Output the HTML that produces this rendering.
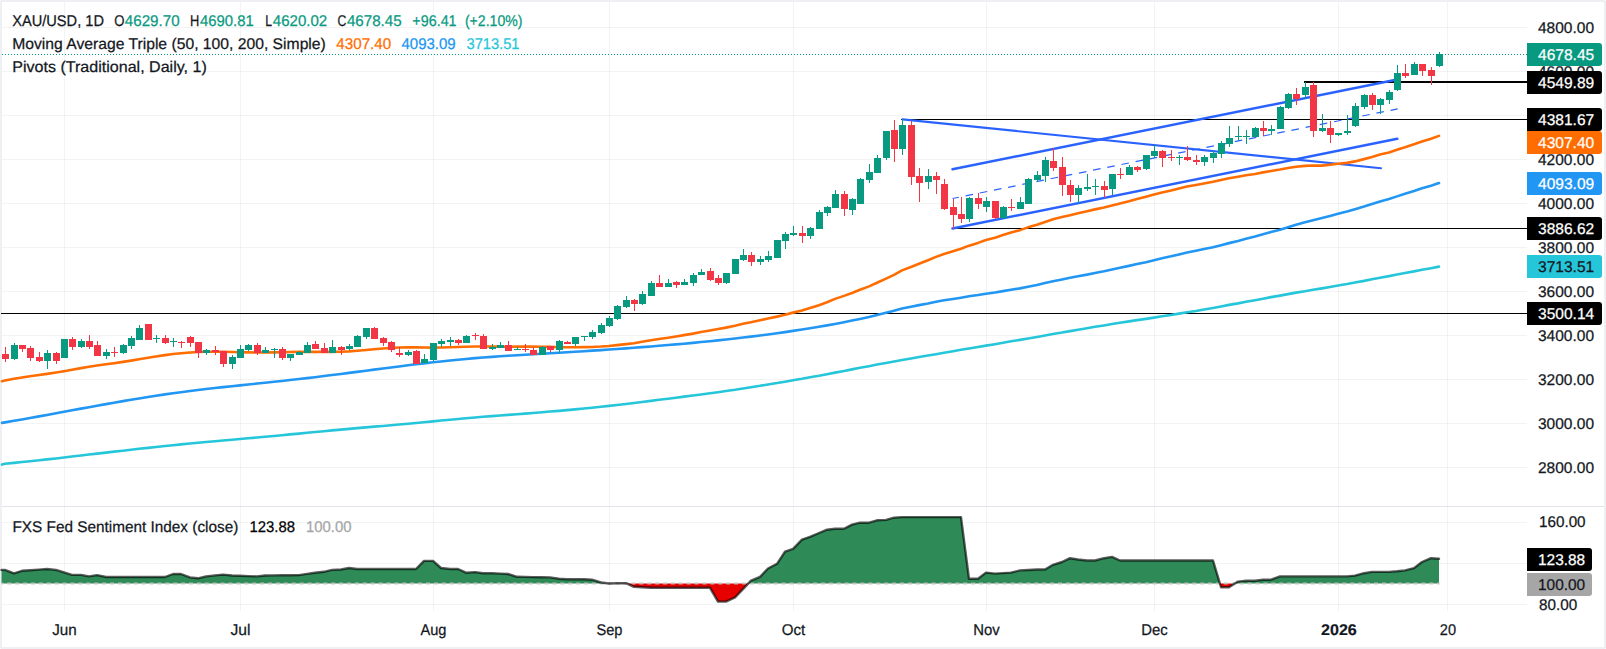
<!DOCTYPE html>
<html lang="en"><head><meta charset="utf-8"><title>XAU/USD 1D chart</title>
<style>html,body{margin:0;padding:0;background:#fff;}body{width:1606px;height:649px;overflow:hidden;}svg{display:block}</style>
</head><body>
<svg width="1606" height="649" viewBox="0 0 1606 649" font-family="'Liberation Sans', Arial, sans-serif" font-size="15.5" fill="#131722" text-rendering="geometricPrecision">
<rect x="0" y="0" width="1606" height="649" fill="#ffffff"/>
<path d="M0 0H1606V649H0ZM2 2V647H1604V2Z" fill="#eff0f4" fill-rule="evenodd" shape-rendering="crispEdges"/>
<path d="M0 0h1v1h-1zM1605 0h1v1h-1zM0 648h1v1h-1zM1605 648h1v1h-1z" fill="#f9fafc" shape-rendering="crispEdges"/>
<path d="M1 1h1v1h-1zM1604 1h1v1h-1zM1 647h1v1h-1zM1604 647h1v1h-1z" fill="#e8eaee" shape-rendering="crispEdges"/>
<path d="M64.5 2V506M64.5 507V611 M240.5 2V506M240.5 507V611 M433.5 2V506M433.5 507V611 M609.5 2V506M609.5 507V611 M793.5 2V506M793.5 507V611 M986.5 2V506M986.5 507V611 M1154.5 2V506M1154.5 507V611 M1338.5 2V506M1338.5 507V611 M1447.5 2V506M1447.5 507V611" stroke="rgba(42,46,57,0.06)" stroke-width="1" fill="none" shape-rendering="crispEdges"/>
<path d="M2 467.5H1527 M2 423.5H1527 M2 379.5H1527 M2 335.5H1527 M2 291.5H1527 M2 247.5H1527 M2 203.5H1527 M2 159.5H1527 M2 115.5H1527 M2 71.5H1527 M2 27.5H1527 M2 522.5H1527 M2 563.5H1527 M2 604.5H1527" stroke="rgba(42,46,57,0.06)" stroke-width="1" fill="none" shape-rendering="crispEdges"/>
<rect x="2" y="506" width="1602" height="1" fill="#e0e3eb"/>
<g shape-rendering="crispEdges" fill="#000">
<rect x="1" y="313" width="1526" height="1"/>
<rect x="953" y="228" width="574" height="1"/>
<rect x="901" y="119" width="626" height="1"/>
<rect x="1304" y="81" width="223" height="2"/>
</g>
<g stroke="#2962ff" fill="none" stroke-linecap="round">
<line x1="902.5" y1="119.4" x2="1381" y2="168.2" stroke-width="2.1"/>
<line x1="952.5" y1="169.3" x2="1397.3" y2="79.5" stroke-width="2.5"/>
<line x1="952.5" y1="228.5" x2="1397.3" y2="138.8" stroke-width="2.5"/>
<line x1="952.5" y1="198.5" x2="1397.7" y2="108.9" stroke-width="1.2" stroke-dasharray="7.6 6.85" stroke-dashoffset="1.09" stroke-linecap="butt"/>
</g>
<path d="M2.0 464.55 L5.0 463.71 L14.0 462.87 L22.0 462.02 L30.0 461.18 L39.0 460.33 L47.0 459.39 L56.0 458.46 L64.0 457.51 L72.0 456.54 L81.0 455.57 L89.0 454.58 L97.0 453.60 L106.0 452.62 L114.0 451.63 L123.0 450.68 L131.0 449.72 L139.0 448.78 L148.0 447.85 L156.0 446.94 L165.0 446.07 L173.0 445.22 L181.0 444.38 L190.0 443.57 L198.0 442.77 L206.0 442.00 L215.0 441.25 L223.0 440.50 L232.0 439.77 L240.0 439.02 L248.0 438.26 L257.0 437.52 L265.0 436.75 L274.0 435.98 L282.0 435.21 L290.0 434.41 L299.0 433.61 L307.0 432.80 L315.0 431.99 L324.0 431.19 L332.0 430.39 L341.0 429.61 L349.0 428.85 L357.0 428.10 L366.0 427.38 L374.0 426.65 L383.0 425.94 L391.0 425.23 L399.0 424.49 L408.0 423.75 L416.0 422.98 L424.0 422.20 L433.0 421.40 L441.0 420.58 L450.0 419.79 L458.0 419.01 L466.0 418.26 L475.0 417.53 L483.0 416.82 L492.0 416.15 L500.0 415.49 L508.0 414.84 L517.0 414.23 L525.0 413.59 L533.0 412.94 L542.0 412.26 L550.0 411.56 L559.0 410.85 L567.0 410.10 L575.0 409.34 L584.0 408.54 L592.0 407.68 L601.0 406.80 L609.0 405.89 L617.0 404.93 L626.0 403.96 L634.0 402.95 L642.0 401.92 L651.0 400.86 L659.0 399.79 L668.0 398.73 L676.0 397.67 L684.0 396.61 L693.0 395.56 L701.0 394.45 L710.0 393.33 L718.0 392.17 L726.0 390.96 L735.0 389.73 L743.0 388.45 L751.0 387.16 L760.0 385.83 L768.0 384.46 L777.0 383.08 L785.0 381.66 L793.0 380.22 L802.0 378.77 L810.0 377.27 L819.0 375.76 L827.0 374.21 L835.0 372.61 L844.0 371.00 L852.0 369.36 L860.0 367.76 L869.0 366.17 L877.0 364.59 L886.0 363.05 L894.0 361.50 L902.0 359.98 L911.0 358.51 L919.0 357.03 L928.0 355.59 L936.0 354.17 L944.0 352.72 L953.0 351.28 L961.0 349.84 L969.0 348.42 L978.0 347.01 L986.0 345.60 L995.0 344.20 L1003.0 342.78 L1011.0 341.34 L1020.0 339.90 L1028.0 338.44 L1037.0 336.99 L1045.0 335.53 L1053.0 334.05 L1062.0 332.59 L1070.0 331.11 L1078.0 329.67 L1087.0 328.25 L1095.0 326.84 L1104.0 325.46 L1112.0 324.07 L1120.0 322.70 L1129.0 321.39 L1137.0 320.10 L1146.0 318.86 L1154.0 317.60 L1162.0 316.29 L1171.0 314.98 L1179.0 313.64 L1187.0 312.30 L1196.0 310.93 L1204.0 309.50 L1213.0 308.02 L1221.0 306.45 L1229.0 304.89 L1238.0 303.35 L1246.0 301.79 L1255.0 300.23 L1263.0 298.68 L1271.0 297.12 L1280.0 295.61 L1288.0 294.10 L1296.0 292.65 L1305.0 291.22 L1313.0 289.78 L1322.0 288.35 L1330.0 286.91 L1338.0 285.44 L1347.0 283.96 L1355.0 282.44 L1364.0 280.90 L1372.0 279.33 L1380.0 277.72 L1389.0 276.13 L1397.0 274.52 L1405.0 272.94 L1414.0 271.35 L1422.0 269.76 L1431.0 268.18 L1439.0 266.60" stroke="#26c6da" stroke-width="2.6" fill="none" stroke-linejoin="round" stroke-linecap="round"/>
<path d="M2.0 422.90 L5.0 422.39 L14.0 420.84 L22.0 419.44 L30.0 418.01 L39.0 416.38 L47.0 414.92 L56.0 413.26 L64.0 411.79 L72.0 410.31 L81.0 408.65 L89.0 407.18 L97.0 405.73 L106.0 404.11 L114.0 402.69 L123.0 401.13 L131.0 399.77 L139.0 398.44 L148.0 396.99 L156.0 395.75 L165.0 394.40 L173.0 393.26 L181.0 392.17 L190.0 391.00 L198.0 390.02 L206.0 389.07 L215.0 388.04 L223.0 387.16 L232.0 386.19 L240.0 385.35 L248.0 384.51 L257.0 383.58 L265.0 382.75 L274.0 381.80 L282.0 380.95 L290.0 380.08 L299.0 379.07 L307.0 378.13 L315.0 377.18 L324.0 376.07 L332.0 375.07 L341.0 373.92 L349.0 372.89 L357.0 371.84 L366.0 370.67 L374.0 369.63 L383.0 368.46 L391.0 367.43 L399.0 366.42 L408.0 365.29 L416.0 364.32 L424.0 363.37 L433.0 362.33 L441.0 361.45 L450.0 360.50 L458.0 359.70 L466.0 358.94 L475.0 358.15 L483.0 357.51 L492.0 356.83 L500.0 356.28 L508.0 355.75 L517.0 355.19 L525.0 354.71 L533.0 354.25 L542.0 353.73 L550.0 353.27 L559.0 352.73 L567.0 352.25 L575.0 351.76 L584.0 351.19 L592.0 350.67 L601.0 350.08 L609.0 349.54 L617.0 348.98 L626.0 348.34 L634.0 347.76 L642.0 347.16 L651.0 346.46 L659.0 345.82 L668.0 345.07 L676.0 344.39 L684.0 343.68 L693.0 342.85 L701.0 342.08 L710.0 341.19 L718.0 340.36 L726.0 339.51 L735.0 338.50 L743.0 337.57 L751.0 336.61 L760.0 335.48 L768.0 334.44 L777.0 333.22 L785.0 332.09 L793.0 330.91 L802.0 329.54 L810.0 328.27 L819.0 326.78 L827.0 325.39 L835.0 323.94 L844.0 322.20 L852.0 320.60 L860.0 318.91 L869.0 316.95 L877.0 315.01 L886.0 312.78 L894.0 310.69 L902.0 308.57 L911.0 306.73 L919.0 305.13 L928.0 303.46 L936.0 301.77 L944.0 300.34 L953.0 298.96 L961.0 297.70 L969.0 296.30 L978.0 295.06 L986.0 293.67 L995.0 292.47 L1003.0 291.11 L1011.0 289.78 L1020.0 288.37 L1028.0 286.73 L1037.0 284.95 L1045.0 283.05 L1053.0 281.21 L1062.0 279.42 L1070.0 277.79 L1078.0 276.18 L1087.0 274.61 L1095.0 272.94 L1104.0 271.34 L1112.0 269.59 L1120.0 267.75 L1129.0 265.88 L1137.0 264.06 L1146.0 262.16 L1154.0 260.18 L1162.0 258.23 L1171.0 256.34 L1179.0 254.41 L1187.0 252.55 L1196.0 250.81 L1204.0 249.10 L1213.0 247.24 L1221.0 245.24 L1229.0 243.13 L1238.0 240.94 L1246.0 238.77 L1255.0 236.42 L1263.0 234.13 L1271.0 231.99 L1280.0 229.65 L1288.0 227.19 L1296.0 224.75 L1305.0 222.26 L1313.0 220.21 L1322.0 218.01 L1330.0 215.89 L1338.0 213.77 L1347.0 211.57 L1355.0 209.14 L1364.0 206.59 L1372.0 204.09 L1380.0 201.61 L1389.0 199.04 L1397.0 196.36 L1405.0 193.68 L1414.0 190.95 L1422.0 188.29 L1431.0 185.73 L1439.0 183.02" stroke="#2196f3" stroke-width="2.6" fill="none" stroke-linejoin="round" stroke-linecap="round"/>
<path d="M2.0 381.20 L5.0 380.54 L14.0 378.79 L22.0 377.46 L30.0 376.26 L39.0 374.99 L47.0 373.87 L56.0 372.51 L64.0 371.16 L72.0 369.72 L81.0 368.10 L89.0 366.76 L97.0 365.57 L106.0 364.31 L114.0 363.21 L123.0 361.88 L131.0 360.60 L139.0 359.26 L148.0 357.76 L156.0 356.46 L165.0 355.12 L173.0 354.08 L181.0 353.23 L190.0 352.51 L198.0 352.06 L206.0 351.79 L215.0 351.68 L223.0 351.75 L232.0 351.99 L240.0 352.24 L248.0 352.42 L257.0 352.52 L265.0 352.51 L274.0 352.41 L282.0 352.23 L290.0 352.03 L299.0 351.86 L307.0 351.83 L315.0 351.86 L324.0 351.91 L332.0 351.89 L341.0 351.72 L349.0 351.38 L357.0 350.81 L366.0 350.00 L374.0 349.24 L383.0 348.48 L391.0 347.93 L399.0 347.55 L408.0 347.37 L416.0 347.39 L424.0 347.53 L433.0 347.59 L441.0 347.51 L450.0 347.29 L458.0 347.05 L466.0 346.82 L475.0 346.48 L483.0 346.56 L492.0 346.56 L500.0 346.64 L508.0 346.75 L517.0 346.65 L525.0 346.61 L533.0 346.65 L542.0 346.69 L550.0 346.92 L559.0 347.18 L567.0 347.26 L575.0 347.24 L584.0 347.10 L592.0 346.93 L601.0 346.57 L609.0 346.07 L617.0 345.14 L626.0 344.14 L634.0 343.18 L642.0 341.79 L651.0 340.31 L659.0 339.07 L668.0 337.83 L676.0 336.46 L684.0 335.10 L693.0 333.62 L701.0 331.91 L710.0 330.42 L718.0 329.04 L726.0 327.60 L735.0 325.81 L743.0 323.85 L751.0 322.15 L760.0 320.33 L768.0 318.53 L777.0 316.61 L785.0 314.73 L793.0 312.62 L802.0 310.48 L810.0 308.04 L819.0 305.18 L827.0 302.28 L835.0 298.88 L844.0 295.88 L852.0 293.00 L860.0 289.76 L869.0 286.40 L877.0 282.71 L886.0 278.61 L894.0 274.86 L902.0 270.39 L911.0 266.99 L919.0 263.74 L928.0 260.25 L936.0 256.86 L944.0 254.04 L953.0 251.24 L961.0 248.68 L969.0 245.65 L978.0 242.90 L986.0 240.05 L995.0 237.66 L1003.0 235.08 L1011.0 232.60 L1020.0 230.14 L1028.0 227.36 L1037.0 224.74 L1045.0 221.93 L1053.0 219.21 L1062.0 217.02 L1070.0 215.25 L1078.0 213.27 L1087.0 211.35 L1095.0 209.38 L1104.0 207.54 L1112.0 205.52 L1120.0 203.57 L1129.0 201.31 L1137.0 199.06 L1146.0 196.69 L1154.0 194.53 L1162.0 192.59 L1171.0 190.51 L1179.0 188.46 L1187.0 186.54 L1196.0 184.98 L1204.0 183.43 L1213.0 181.83 L1221.0 179.98 L1229.0 178.19 L1238.0 176.67 L1246.0 175.24 L1255.0 173.92 L1263.0 172.36 L1271.0 170.95 L1280.0 169.51 L1288.0 167.95 L1296.0 166.76 L1305.0 165.89 L1313.0 165.53 L1322.0 165.60 L1330.0 164.76 L1338.0 163.77 L1347.0 162.87 L1355.0 161.39 L1364.0 159.12 L1372.0 156.92 L1380.0 154.52 L1389.0 152.40 L1397.0 149.79 L1405.0 147.28 L1414.0 144.20 L1422.0 141.48 L1431.0 138.83 L1439.0 135.87" stroke="#ff6d00" stroke-width="2.6" fill="none" stroke-linejoin="round" stroke-linecap="round"/>
<path d="M11 345h7v14h-7zM14 343h1v2h-1zM14 359h1v1h-1zM44 353h7v8h-7zM47 350h1v3h-1zM47 361h1v8h-1zM61 339h7v19h-7zM78 341h7v6h-7zM81 339h1v2h-1zM81 347h1v1h-1zM103 352h7v4h-7zM106 349h1v3h-1zM106 356h1v3h-1zM120 345h7v8h-7zM123 344h1v1h-1zM123 353h1v1h-1zM128 338h7v8h-7zM131 336h1v2h-1zM131 346h1v3h-1zM136 328h7v12h-7zM139 325h1v3h-1zM153 338h7v1h-7zM156 335h1v3h-1zM156 339h1v4h-1zM170 341h7v1h-7zM173 338h1v3h-1zM173 342h1v5h-1zM203 350h7v3h-7zM206 349h1v1h-1zM206 353h1v2h-1zM229 357h7v7h-7zM232 355h1v2h-1zM232 364h1v5h-1zM237 349h7v9h-7zM240 345h1v4h-1zM245 345h7v5h-7zM248 344h1v1h-1zM248 350h1v1h-1zM262 350h7v3h-7zM265 347h1v3h-1zM271 349h7v1h-7zM274 348h1v1h-1zM274 350h1v8h-1zM287 354h7v4h-7zM290 358h1v3h-1zM296 352h7v3h-7zM299 351h1v1h-1zM304 345h7v8h-7zM307 342h1v3h-1zM329 347h7v6h-7zM332 340h1v7h-1zM346 346h7v3h-7zM349 344h1v2h-1zM349 349h1v1h-1zM354 336h7v11h-7zM357 335h1v1h-1zM363 328h7v9h-7zM366 337h1v2h-1zM405 352h7v3h-7zM408 350h1v2h-1zM408 355h1v1h-1zM421 359h7v4h-7zM424 354h1v5h-1zM430 343h7v17h-7zM433 360h1v1h-1zM438 341h7v3h-7zM441 339h1v2h-1zM441 344h1v3h-1zM447 340h7v2h-7zM450 337h1v3h-1zM450 342h1v4h-1zM463 336h7v7h-7zM466 335h1v1h-1zM489 347h7v2h-7zM492 344h1v3h-1zM492 349h1v1h-1zM497 345h7v3h-7zM500 342h1v3h-1zM514 349h7v1h-7zM517 347h1v2h-1zM539 347h7v8h-7zM542 346h1v1h-1zM556 341h7v9h-7zM559 340h1v1h-1zM559 350h1v3h-1zM572 337h7v7h-7zM575 344h1v2h-1zM581 336h7v1h-7zM584 337h1v4h-1zM589 332h7v5h-7zM592 330h1v2h-1zM592 337h1v2h-1zM598 325h7v8h-7zM601 323h1v2h-1zM601 333h1v1h-1zM606 318h7v8h-7zM609 316h1v2h-1zM609 326h1v1h-1zM614 306h7v13h-7zM617 305h1v1h-1zM617 319h1v1h-1zM623 300h7v7h-7zM626 296h1v4h-1zM626 307h1v1h-1zM639 294h7v10h-7zM642 291h1v3h-1zM642 304h1v1h-1zM648 283h7v13h-7zM651 281h1v2h-1zM665 283h7v4h-7zM668 279h1v4h-1zM681 282h7v3h-7zM684 279h1v3h-1zM690 275h7v8h-7zM693 273h1v2h-1zM693 283h1v3h-1zM698 272h7v3h-7zM701 269h1v3h-1zM723 273h7v10h-7zM726 283h1v1h-1zM732 259h7v15h-7zM740 255h7v5h-7zM743 249h1v6h-1zM743 260h1v1h-1zM757 259h7v3h-7zM760 256h1v3h-1zM760 262h1v3h-1zM765 256h7v4h-7zM768 251h1v5h-1zM768 260h1v2h-1zM774 240h7v18h-7zM782 234h7v7h-7zM785 232h1v2h-1zM785 241h1v8h-1zM790 233h7v2h-7zM793 226h1v7h-1zM793 235h1v1h-1zM807 228h7v8h-7zM810 227h1v1h-1zM810 236h1v3h-1zM816 212h7v17h-7zM819 210h1v2h-1zM824 207h7v6h-7zM827 206h1v1h-1zM827 213h1v3h-1zM832 194h7v14h-7zM835 190h1v4h-1zM849 199h7v11h-7zM852 198h1v1h-1zM852 210h1v5h-1zM857 179h7v25h-7zM860 178h1v1h-1zM866 172h7v8h-7zM869 164h1v8h-1zM869 180h1v3h-1zM874 158h7v15h-7zM877 155h1v3h-1zM883 131h7v27h-7zM886 158h1v2h-1zM899 125h7v24h-7zM902 119h1v6h-1zM902 149h1v6h-1zM925 176h7v6h-7zM928 169h1v7h-1zM928 182h1v7h-1zM966 198h7v21h-7zM969 197h1v1h-1zM969 219h1v3h-1zM983 201h7v6h-7zM986 197h1v4h-1zM986 207h1v5h-1zM1000 207h7v11h-7zM1003 206h1v1h-1zM1003 218h1v1h-1zM1017 202h7v7h-7zM1020 197h1v5h-1zM1025 179h7v25h-7zM1028 178h1v1h-1zM1034 175h7v5h-7zM1037 171h1v4h-1zM1037 180h1v2h-1zM1042 160h7v16h-7zM1045 157h1v3h-1zM1045 176h1v6h-1zM1075 188h7v7h-7zM1078 185h1v3h-1zM1078 195h1v9h-1zM1084 187h7v2h-7zM1087 174h1v13h-1zM1087 189h1v2h-1zM1092 186h7v1h-7zM1095 179h1v7h-1zM1095 187h1v8h-1zM1109 174h7v15h-7zM1112 189h1v6h-1zM1126 167h7v8h-7zM1129 165h1v2h-1zM1143 155h7v14h-7zM1146 169h1v1h-1zM1151 151h7v5h-7zM1154 145h1v6h-1zM1154 156h1v2h-1zM1176 157h7v1h-7zM1179 155h1v2h-1zM1179 158h1v7h-1zM1201 157h7v5h-7zM1204 155h1v2h-1zM1204 162h1v4h-1zM1210 153h7v5h-7zM1213 151h1v2h-1zM1213 158h1v5h-1zM1218 143h7v11h-7zM1221 141h1v2h-1zM1221 154h1v4h-1zM1226 138h7v6h-7zM1229 126h1v12h-1zM1229 144h1v3h-1zM1235 136h7v1h-7zM1238 126h1v10h-1zM1238 137h1v4h-1zM1243 136h7v1h-7zM1246 130h1v6h-1zM1246 137h1v7h-1zM1252 128h7v9h-7zM1255 127h1v1h-1zM1268 129h7v2h-7zM1271 125h1v4h-1zM1271 131h1v4h-1zM1277 107h7v22h-7zM1280 106h1v1h-1zM1285 94h7v14h-7zM1288 93h1v1h-1zM1288 108h1v1h-1zM1302 87h7v8h-7zM1305 82h1v5h-1zM1305 95h1v4h-1zM1319 128h7v3h-7zM1322 114h1v14h-1zM1322 131h1v1h-1zM1335 133h7v2h-7zM1338 135h1v1h-1zM1344 131h7v2h-7zM1347 115h1v16h-1zM1347 133h1v2h-1zM1352 106h7v20h-7zM1355 103h1v3h-1zM1355 126h1v1h-1zM1361 95h7v12h-7zM1364 94h1v1h-1zM1364 107h1v2h-1zM1377 99h7v6h-7zM1380 98h1v1h-1zM1380 105h1v9h-1zM1386 92h7v8h-7zM1389 90h1v2h-1zM1389 100h1v4h-1zM1394 73h7v17h-7zM1397 65h1v8h-1zM1397 90h1v1h-1zM1411 64h7v11h-7zM1414 62h1v2h-1zM1436 54h7v12h-7zM1439 52h1v2h-1zM1439 66h1v1h-1z" fill="#089981" shape-rendering="crispEdges"/>
<path d="M2 354h7v5h-7zM5 347h1v7h-1zM5 359h1v3h-1zM19 345h7v4h-7zM22 349h1v3h-1zM27 348h7v10h-7zM30 346h1v2h-1zM30 358h1v3h-1zM36 357h7v4h-7zM39 352h1v5h-1zM39 361h1v1h-1zM53 353h7v8h-7zM56 352h1v1h-1zM56 361h1v3h-1zM69 339h7v8h-7zM72 337h1v2h-1zM72 347h1v3h-1zM86 341h7v6h-7zM89 335h1v6h-1zM89 347h1v2h-1zM94 345h7v11h-7zM97 341h1v4h-1zM111 352h7v1h-7zM114 347h1v5h-1zM114 353h1v4h-1zM145 324h7v16h-7zM162 338h7v5h-7zM165 335h1v3h-1zM165 343h1v1h-1zM178 342h7v1h-7zM181 341h1v1h-1zM181 343h1v5h-1zM187 337h7v6h-7zM190 336h1v1h-1zM190 343h1v4h-1zM195 342h7v11h-7zM198 353h1v5h-1zM212 350h7v2h-7zM215 346h1v4h-1zM215 352h1v3h-1zM220 351h7v13h-7zM223 364h1v3h-1zM254 345h7v8h-7zM257 343h1v2h-1zM257 353h1v2h-1zM279 349h7v9h-7zM282 347h1v2h-1zM282 358h1v2h-1zM312 344h7v5h-7zM315 341h1v3h-1zM321 348h7v5h-7zM324 343h1v5h-1zM338 347h7v3h-7zM341 346h1v1h-1zM341 350h1v5h-1zM371 328h7v11h-7zM374 327h1v1h-1zM380 338h7v5h-7zM383 337h1v1h-1zM383 343h1v3h-1zM388 342h7v8h-7zM391 341h1v1h-1zM391 350h1v2h-1zM396 353h7v2h-7zM399 347h1v6h-1zM399 355h1v2h-1zM413 351h7v13h-7zM416 350h1v1h-1zM455 340h7v3h-7zM458 339h1v1h-1zM458 343h1v2h-1zM472 335h7v1h-7zM475 333h1v2h-1zM475 336h1v4h-1zM480 336h7v13h-7zM483 334h1v2h-1zM505 345h7v6h-7zM508 341h1v4h-1zM522 349h7v1h-7zM525 344h1v5h-1zM525 350h1v2h-1zM530 350h7v5h-7zM533 347h1v3h-1zM547 346h7v4h-7zM550 350h1v2h-1zM564 342h7v2h-7zM567 341h1v1h-1zM631 300h7v4h-7zM634 299h1v1h-1zM634 304h1v7h-1zM656 283h7v4h-7zM659 275h1v8h-1zM673 282h7v3h-7zM676 281h1v1h-1zM676 285h1v3h-1zM707 271h7v9h-7zM710 268h1v3h-1zM710 280h1v1h-1zM715 278h7v5h-7zM718 275h1v3h-1zM718 283h1v2h-1zM748 255h7v7h-7zM751 252h1v3h-1zM751 262h1v4h-1zM799 233h7v3h-7zM802 226h1v7h-1zM802 236h1v7h-1zM841 194h7v15h-7zM844 191h1v3h-1zM844 209h1v7h-1zM891 130h7v19h-7zM894 120h1v10h-1zM894 149h1v13h-1zM908 125h7v52h-7zM911 121h1v4h-1zM911 177h1v8h-1zM916 176h7v7h-7zM919 168h1v8h-1zM919 183h1v19h-1zM933 176h7v4h-7zM936 172h1v4h-1zM936 180h1v14h-1zM941 184h7v25h-7zM944 179h1v5h-1zM944 209h1v1h-1zM950 207h7v8h-7zM953 199h1v8h-1zM953 215h1v14h-1zM958 214h7v5h-7zM961 197h1v17h-1zM961 219h1v4h-1zM975 198h7v6h-7zM978 193h1v5h-1zM978 204h1v5h-1zM992 201h7v17h-7zM995 218h1v1h-1zM1008 207h7v1h-7zM1011 199h1v8h-1zM1011 208h1v3h-1zM1050 161h7v7h-7zM1053 148h1v13h-1zM1053 168h1v3h-1zM1059 167h7v18h-7zM1062 157h1v10h-1zM1062 185h1v11h-1zM1067 185h7v10h-7zM1070 180h1v5h-1zM1070 195h1v7h-1zM1101 186h7v4h-7zM1104 181h1v5h-1zM1104 190h1v8h-1zM1117 174h7v1h-7zM1120 168h1v6h-1zM1120 175h1v4h-1zM1134 167h7v3h-7zM1137 166h1v1h-1zM1137 170h1v2h-1zM1159 151h7v7h-7zM1162 150h1v1h-1zM1162 158h1v9h-1zM1168 157h7v1h-7zM1171 150h1v7h-1zM1171 158h1v3h-1zM1184 157h7v3h-7zM1187 146h1v11h-1zM1187 160h1v1h-1zM1193 160h7v2h-7zM1196 155h1v5h-1zM1196 162h1v3h-1zM1260 128h7v3h-7zM1263 121h1v7h-1zM1263 131h1v5h-1zM1293 94h7v5h-7zM1296 88h1v6h-1zM1296 99h1v6h-1zM1310 85h7v46h-7zM1313 82h1v3h-1zM1313 131h1v6h-1zM1327 128h7v7h-7zM1330 121h1v7h-1zM1330 135h1v8h-1zM1369 95h7v10h-7zM1372 93h1v2h-1zM1372 105h1v5h-1zM1402 73h7v3h-7zM1405 64h1v9h-1zM1405 76h1v2h-1zM1419 64h7v7h-7zM1422 71h1v5h-1zM1428 70h7v6h-7zM1431 67h1v3h-1zM1431 76h1v9h-1z" fill="#f23645" shape-rendering="crispEdges"/>
<line x1="2" y1="54.5" x2="1527" y2="54.5" stroke="#089981" stroke-width="1" stroke-dasharray="1 2" shape-rendering="crispEdges"/>
<path d="M1.5 583.6 L1.5 569.9 L5.0 569.9 L14.0 573.3 L22.0 570.8 L30.0 570.2 L39.0 569.6 L47.0 569.0 L56.0 569.9 L64.0 572.4 L72.0 574.9 L81.0 574.9 L89.0 576.4 L97.0 575.1 L106.0 577.0 L114.0 577.0 L123.0 577.0 L131.0 577.0 L139.0 577.0 L148.0 577.0 L156.0 577.0 L165.0 577.0 L173.0 574.0 L181.0 574.0 L190.0 577.4 L198.0 578.3 L206.0 576.4 L215.0 575.4 L223.0 574.6 L232.0 575.5 L240.0 575.8 L248.0 576.1 L257.0 576.4 L265.0 575.5 L274.0 575.4 L282.0 575.3 L290.0 575.2 L299.0 575.1 L307.0 573.9 L315.0 572.7 L324.0 571.8 L332.0 569.9 L341.0 569.5 L349.0 568.0 L357.0 569.0 L366.0 569.0 L374.0 569.0 L383.0 569.0 L391.0 569.0 L399.0 569.0 L408.0 569.0 L416.0 569.0 L424.0 560.9 L433.0 560.9 L441.0 568.0 L450.0 569.0 L458.0 569.0 L466.0 572.7 L475.0 572.1 L483.0 573.3 L492.0 573.3 L500.0 573.6 L508.0 574.0 L517.0 576.8 L525.0 576.9 L533.0 577.1 L542.0 577.3 L550.0 577.4 L559.0 578.7 L567.0 579.2 L575.0 579.2 L584.0 579.2 L592.0 579.7 L601.0 582.5 L609.0 583.5 L617.0 583.3 L626.0 583.1 L627.1 583.6ZM748.2 583.6 L751.0 580.7 L760.0 576.9 L768.0 568.5 L777.0 563.8 L785.0 551.7 L793.0 548.9 L802.0 539.6 L810.0 536.8 L819.0 533.0 L827.0 529.7 L835.0 528.7 L844.0 528.7 L852.0 524.6 L860.0 522.7 L869.0 522.7 L877.0 520.3 L886.0 519.9 L894.0 517.7 L902.0 517.1 L911.0 517.1 L919.0 517.1 L928.0 517.1 L936.0 517.1 L944.0 517.1 L953.0 517.1 L961.0 517.1 L969.0 578.8 L978.0 578.8 L986.0 572.6 L995.0 573.6 L1003.0 573.1 L1011.0 572.6 L1020.0 570.4 L1028.0 570.0 L1037.0 569.5 L1045.0 569.5 L1053.0 564.8 L1062.0 562.0 L1070.0 558.2 L1078.0 559.5 L1087.0 560.5 L1095.0 560.5 L1104.0 558.2 L1112.0 556.9 L1120.0 560.5 L1129.0 560.5 L1137.0 560.5 L1146.0 560.5 L1154.0 560.5 L1162.0 560.5 L1171.0 560.5 L1179.0 560.5 L1187.0 560.5 L1196.0 560.5 L1204.0 560.5 L1213.0 560.5 L1219.9 583.6ZM1234.8 583.6 L1238.0 581.6 L1246.0 580.7 L1255.0 580.7 L1263.0 579.7 L1271.0 579.7 L1280.0 576.4 L1288.0 576.4 L1296.0 576.4 L1305.0 576.4 L1313.0 576.4 L1322.0 576.4 L1330.0 576.4 L1338.0 576.4 L1347.0 576.4 L1355.0 575.6 L1364.0 573.2 L1372.0 571.9 L1380.0 571.9 L1389.0 571.9 L1397.0 571.3 L1405.0 570.4 L1414.0 568.1 L1422.0 562.0 L1431.0 558.2 L1439.0 558.8 L1439.0 583.6Z" fill="#2e8b57"/>
<path d="M627.1 583.6 L634.0 586.8 L642.0 587.3 L651.0 587.8 L659.0 587.8 L668.0 587.8 L676.0 587.8 L684.0 587.8 L693.0 587.8 L701.0 587.8 L710.0 587.8 L718.0 601.6 L726.0 601.6 L735.0 597.5 L743.0 589.1 L748.2 583.6ZM1219.9 583.6 L1221.0 587.2 L1229.0 587.2 L1234.8 583.6Z" fill="#e60000"/>
<line x1="2" y1="583.5" x2="1439.6" y2="583.5" stroke="#c2c2c2" stroke-opacity="0.9" stroke-width="1.8" stroke-dasharray="4 3.9" stroke-dashoffset="2.6"/>
<path d="M1.5 569.9 L5.0 569.9 L14.0 573.3 L22.0 570.8 L30.0 570.2 L39.0 569.6 L47.0 569.0 L56.0 569.9 L64.0 572.4 L72.0 574.9 L81.0 574.9 L89.0 576.4 L97.0 575.1 L106.0 577.0 L114.0 577.0 L123.0 577.0 L131.0 577.0 L139.0 577.0 L148.0 577.0 L156.0 577.0 L165.0 577.0 L173.0 574.0 L181.0 574.0 L190.0 577.4 L198.0 578.3 L206.0 576.4 L215.0 575.4 L223.0 574.6 L232.0 575.5 L240.0 575.8 L248.0 576.1 L257.0 576.4 L265.0 575.5 L274.0 575.4 L282.0 575.3 L290.0 575.2 L299.0 575.1 L307.0 573.9 L315.0 572.7 L324.0 571.8 L332.0 569.9 L341.0 569.5 L349.0 568.0 L357.0 569.0 L366.0 569.0 L374.0 569.0 L383.0 569.0 L391.0 569.0 L399.0 569.0 L408.0 569.0 L416.0 569.0 L424.0 560.9 L433.0 560.9 L441.0 568.0 L450.0 569.0 L458.0 569.0 L466.0 572.7 L475.0 572.1 L483.0 573.3 L492.0 573.3 L500.0 573.6 L508.0 574.0 L517.0 576.8 L525.0 576.9 L533.0 577.1 L542.0 577.3 L550.0 577.4 L559.0 578.7 L567.0 579.2 L575.0 579.2 L584.0 579.2 L592.0 579.7 L601.0 582.5 L609.0 583.5 L617.0 583.3 L626.0 583.1 L634.0 586.8 L642.0 587.3 L651.0 587.8 L659.0 587.8 L668.0 587.8 L676.0 587.8 L684.0 587.8 L693.0 587.8 L701.0 587.8 L710.0 587.8 L718.0 601.6 L726.0 601.6 L735.0 597.5 L743.0 589.1 L751.0 580.7 L760.0 576.9 L768.0 568.5 L777.0 563.8 L785.0 551.7 L793.0 548.9 L802.0 539.6 L810.0 536.8 L819.0 533.0 L827.0 529.7 L835.0 528.7 L844.0 528.7 L852.0 524.6 L860.0 522.7 L869.0 522.7 L877.0 520.3 L886.0 519.9 L894.0 517.7 L902.0 517.1 L911.0 517.1 L919.0 517.1 L928.0 517.1 L936.0 517.1 L944.0 517.1 L953.0 517.1 L961.0 517.1 L969.0 578.8 L978.0 578.8 L986.0 572.6 L995.0 573.6 L1003.0 573.1 L1011.0 572.6 L1020.0 570.4 L1028.0 570.0 L1037.0 569.5 L1045.0 569.5 L1053.0 564.8 L1062.0 562.0 L1070.0 558.2 L1078.0 559.5 L1087.0 560.5 L1095.0 560.5 L1104.0 558.2 L1112.0 556.9 L1120.0 560.5 L1129.0 560.5 L1137.0 560.5 L1146.0 560.5 L1154.0 560.5 L1162.0 560.5 L1171.0 560.5 L1179.0 560.5 L1187.0 560.5 L1196.0 560.5 L1204.0 560.5 L1213.0 560.5 L1221.0 587.2 L1229.0 587.2 L1238.0 581.6 L1246.0 580.7 L1255.0 580.7 L1263.0 579.7 L1271.0 579.7 L1280.0 576.4 L1288.0 576.4 L1296.0 576.4 L1305.0 576.4 L1313.0 576.4 L1322.0 576.4 L1330.0 576.4 L1338.0 576.4 L1347.0 576.4 L1355.0 575.6 L1364.0 573.2 L1372.0 571.9 L1380.0 571.9 L1389.0 571.9 L1397.0 571.3 L1405.0 570.4 L1414.0 568.1 L1422.0 562.0 L1431.0 558.2 L1439.0 558.8" stroke="#000000" stroke-opacity="0.63" stroke-width="2.4" fill="none" stroke-linejoin="round" stroke-linecap="round"/>
<text x="12.2" y="26" textLength="91.8" lengthAdjust="spacingAndGlyphs" stroke="#131722" stroke-width="0.25">XAU/USD, 1D</text>
<text x="114.3" y="26" textLength="10.2" lengthAdjust="spacingAndGlyphs" stroke="#131722" stroke-width="0.25">O</text>
<text x="124.8" y="26" textLength="54.8" lengthAdjust="spacingAndGlyphs" fill="#089981" stroke="#089981" stroke-width="0.25">4629.70</text>
<text x="190" y="26" textLength="9.3" lengthAdjust="spacingAndGlyphs" stroke="#131722" stroke-width="0.25">H</text>
<text x="199.9" y="26" textLength="53.8" lengthAdjust="spacingAndGlyphs" fill="#089981" stroke="#089981" stroke-width="0.25">4690.81</text>
<text x="265.3" y="26" textLength="6.8" lengthAdjust="spacingAndGlyphs" stroke="#131722" stroke-width="0.25">L</text>
<text x="272.8" y="26" textLength="54.4" lengthAdjust="spacingAndGlyphs" fill="#089981" stroke="#089981" stroke-width="0.25">4620.02</text>
<text x="337.5" y="26" textLength="8.8" lengthAdjust="spacingAndGlyphs" stroke="#131722" stroke-width="0.25">C</text>
<text x="346.9" y="26" textLength="54.7" lengthAdjust="spacingAndGlyphs" fill="#089981" stroke="#089981" stroke-width="0.25">4678.45</text>
<text x="412.3" y="26" textLength="44.3" lengthAdjust="spacingAndGlyphs" fill="#089981" stroke="#089981" stroke-width="0.25">+96.41</text>
<text x="464.9" y="26" textLength="57.6" lengthAdjust="spacingAndGlyphs" fill="#089981" stroke="#089981" stroke-width="0.25">(+2.10%)</text>
<text x="12.2" y="49" textLength="313.6" lengthAdjust="spacingAndGlyphs" stroke="#131722" stroke-width="0.25">Moving Average Triple (50, 100, 200, Simple)</text>
<text x="336.3" y="49" textLength="54.9" lengthAdjust="spacingAndGlyphs" fill="#ff6d00" stroke="#ff6d00" stroke-width="0.25">4307.40</text>
<text x="401.5" y="49" textLength="54.2" lengthAdjust="spacingAndGlyphs" fill="#2196f3" stroke="#2196f3" stroke-width="0.25">4093.09</text>
<text x="466.5" y="49" textLength="53" lengthAdjust="spacingAndGlyphs" fill="#26c6da" stroke="#26c6da" stroke-width="0.25">3713.51</text>
<text x="12.2" y="72" textLength="194.6" lengthAdjust="spacingAndGlyphs" stroke="#131722" stroke-width="0.25">Pivots (Traditional, Daily, 1)</text>
<text x="12.5" y="532" textLength="225.8" lengthAdjust="spacingAndGlyphs" stroke="#131722" stroke-width="0.25">FXS Fed Sentiment Index (close)</text>
<text x="249.5" y="532" textLength="45.6" lengthAdjust="spacingAndGlyphs" fill="#000000" stroke="#000000" stroke-width="0.25">123.88</text>
<text x="306" y="532" textLength="45.6" lengthAdjust="spacingAndGlyphs" fill="#a6a6a6" stroke="#a6a6a6" stroke-width="0.25">100.00</text>
<text x="52.25" y="635.3" textLength="24.5" lengthAdjust="spacingAndGlyphs" stroke="#131722" stroke-width="0.25">Jun</text>
<text x="230.5" y="635.3" textLength="20" lengthAdjust="spacingAndGlyphs" stroke="#131722" stroke-width="0.25">Jul</text>
<text x="420.5" y="635.3" textLength="26" lengthAdjust="spacingAndGlyphs" stroke="#131722" stroke-width="0.25">Aug</text>
<text x="596.5" y="635.3" textLength="26" lengthAdjust="spacingAndGlyphs" stroke="#131722" stroke-width="0.25">Sep</text>
<text x="781.75" y="635.3" textLength="23.5" lengthAdjust="spacingAndGlyphs" stroke="#131722" stroke-width="0.25">Oct</text>
<text x="973.25" y="635.3" textLength="26.5" lengthAdjust="spacingAndGlyphs" stroke="#131722" stroke-width="0.25">Nov</text>
<text x="1141.25" y="635.3" textLength="26.5" lengthAdjust="spacingAndGlyphs" stroke="#131722" stroke-width="0.25">Dec</text>
<text x="1321" y="635.3" textLength="35.8" lengthAdjust="spacingAndGlyphs" stroke="#131722" stroke-width="0.2" font-weight="bold">2026</text>
<text x="1439.8" y="635.3" textLength="16.2" lengthAdjust="spacingAndGlyphs" stroke="#131722" stroke-width="0.25">20</text>
<text x="1538" y="473.0" textLength="56" lengthAdjust="spacingAndGlyphs" stroke="#131722" stroke-width="0.25">2800.00</text>
<text x="1538" y="429.0" textLength="56" lengthAdjust="spacingAndGlyphs" stroke="#131722" stroke-width="0.25">3000.00</text>
<text x="1538" y="385.0" textLength="56" lengthAdjust="spacingAndGlyphs" stroke="#131722" stroke-width="0.25">3200.00</text>
<text x="1538" y="341.0" textLength="56" lengthAdjust="spacingAndGlyphs" stroke="#131722" stroke-width="0.25">3400.00</text>
<text x="1538" y="297.0" textLength="56" lengthAdjust="spacingAndGlyphs" stroke="#131722" stroke-width="0.25">3600.00</text>
<text x="1538" y="253.0" textLength="56" lengthAdjust="spacingAndGlyphs" stroke="#131722" stroke-width="0.25">3800.00</text>
<text x="1538" y="209.0" textLength="56" lengthAdjust="spacingAndGlyphs" stroke="#131722" stroke-width="0.25">4000.00</text>
<text x="1538" y="165.0" textLength="56" lengthAdjust="spacingAndGlyphs" stroke="#131722" stroke-width="0.25">4200.00</text>
<text x="1538" y="121.0" textLength="56" lengthAdjust="spacingAndGlyphs" stroke="#131722" stroke-width="0.25">4400.00</text>
<text x="1538" y="77.0" textLength="56" lengthAdjust="spacingAndGlyphs" stroke="#131722" stroke-width="0.25">4600.00</text>
<text x="1538" y="33.0" textLength="56" lengthAdjust="spacingAndGlyphs" stroke="#131722" stroke-width="0.25">4800.00</text>
<path d="M1527 43h72a3 3 0 0 1 3 3v17a3 3 0 0 1 -3 3h-72z" fill="#089981"/>
<text x="1538" y="60.0" textLength="56.2" lengthAdjust="spacingAndGlyphs" fill="#ffffff" stroke="#ffffff" stroke-width="0.25">4678.45</text>
<path d="M1527 71h72a3 3 0 0 1 3 3v17a3 3 0 0 1 -3 3h-72z" fill="#000000"/>
<text x="1538" y="88.0" textLength="56.2" lengthAdjust="spacingAndGlyphs" fill="#ffffff" stroke="#ffffff" stroke-width="0.25">4549.89</text>
<path d="M1527 108h72a3 3 0 0 1 3 3v17a3 3 0 0 1 -3 3h-72z" fill="#000000"/>
<text x="1538" y="125.0" textLength="56.2" lengthAdjust="spacingAndGlyphs" fill="#ffffff" stroke="#ffffff" stroke-width="0.25">4381.67</text>
<path d="M1527 131h72a3 3 0 0 1 3 3v17a3 3 0 0 1 -3 3h-72z" fill="#ff6d00"/>
<text x="1538" y="148.0" textLength="56.2" lengthAdjust="spacingAndGlyphs" fill="#ffffff" stroke="#ffffff" stroke-width="0.25">4307.40</text>
<path d="M1527 172h72a3 3 0 0 1 3 3v17a3 3 0 0 1 -3 3h-72z" fill="#2196f3"/>
<text x="1538" y="189.0" textLength="56.2" lengthAdjust="spacingAndGlyphs" fill="#ffffff" stroke="#ffffff" stroke-width="0.25">4093.09</text>
<path d="M1527 217h72a3 3 0 0 1 3 3v17a3 3 0 0 1 -3 3h-72z" fill="#000000"/>
<text x="1538" y="234.0" textLength="56.2" lengthAdjust="spacingAndGlyphs" fill="#ffffff" stroke="#ffffff" stroke-width="0.25">3886.62</text>
<path d="M1527 255h72a3 3 0 0 1 3 3v17a3 3 0 0 1 -3 3h-72z" fill="#26c6da"/>
<text x="1538" y="272.0" textLength="56.2" lengthAdjust="spacingAndGlyphs" fill="#131722" stroke="#131722" stroke-width="0.25">3713.51</text>
<path d="M1527 302h72a3 3 0 0 1 3 3v17a3 3 0 0 1 -3 3h-72z" fill="#000000"/>
<text x="1538" y="319.0" textLength="56.2" lengthAdjust="spacingAndGlyphs" fill="#ffffff" stroke="#ffffff" stroke-width="0.25">3500.14</text>
<text x="1539" y="527.4" textLength="46.6" lengthAdjust="spacingAndGlyphs" stroke="#131722" stroke-width="0.25">160.00</text>
<text x="1539" y="609.6" textLength="38.2" lengthAdjust="spacingAndGlyphs" stroke="#131722" stroke-width="0.25">80.00</text>
<path d="M1527 548h62a3 3 0 0 1 3 3v17a3 3 0 0 1 -3 3h-62z" fill="#000000"/>
<text x="1538" y="565.0" textLength="47.2" lengthAdjust="spacingAndGlyphs" fill="#ffffff" stroke="#ffffff" stroke-width="0.25">123.88</text>
<path d="M1527 573h62a3 3 0 0 1 3 3v17a3 3 0 0 1 -3 3h-62z" fill="#a6a6a6"/>
<text x="1538" y="590.0" textLength="47.2" lengthAdjust="spacingAndGlyphs" fill="#131722" stroke="#131722" stroke-width="0.25">100.00</text>
</svg>
</body></html>
